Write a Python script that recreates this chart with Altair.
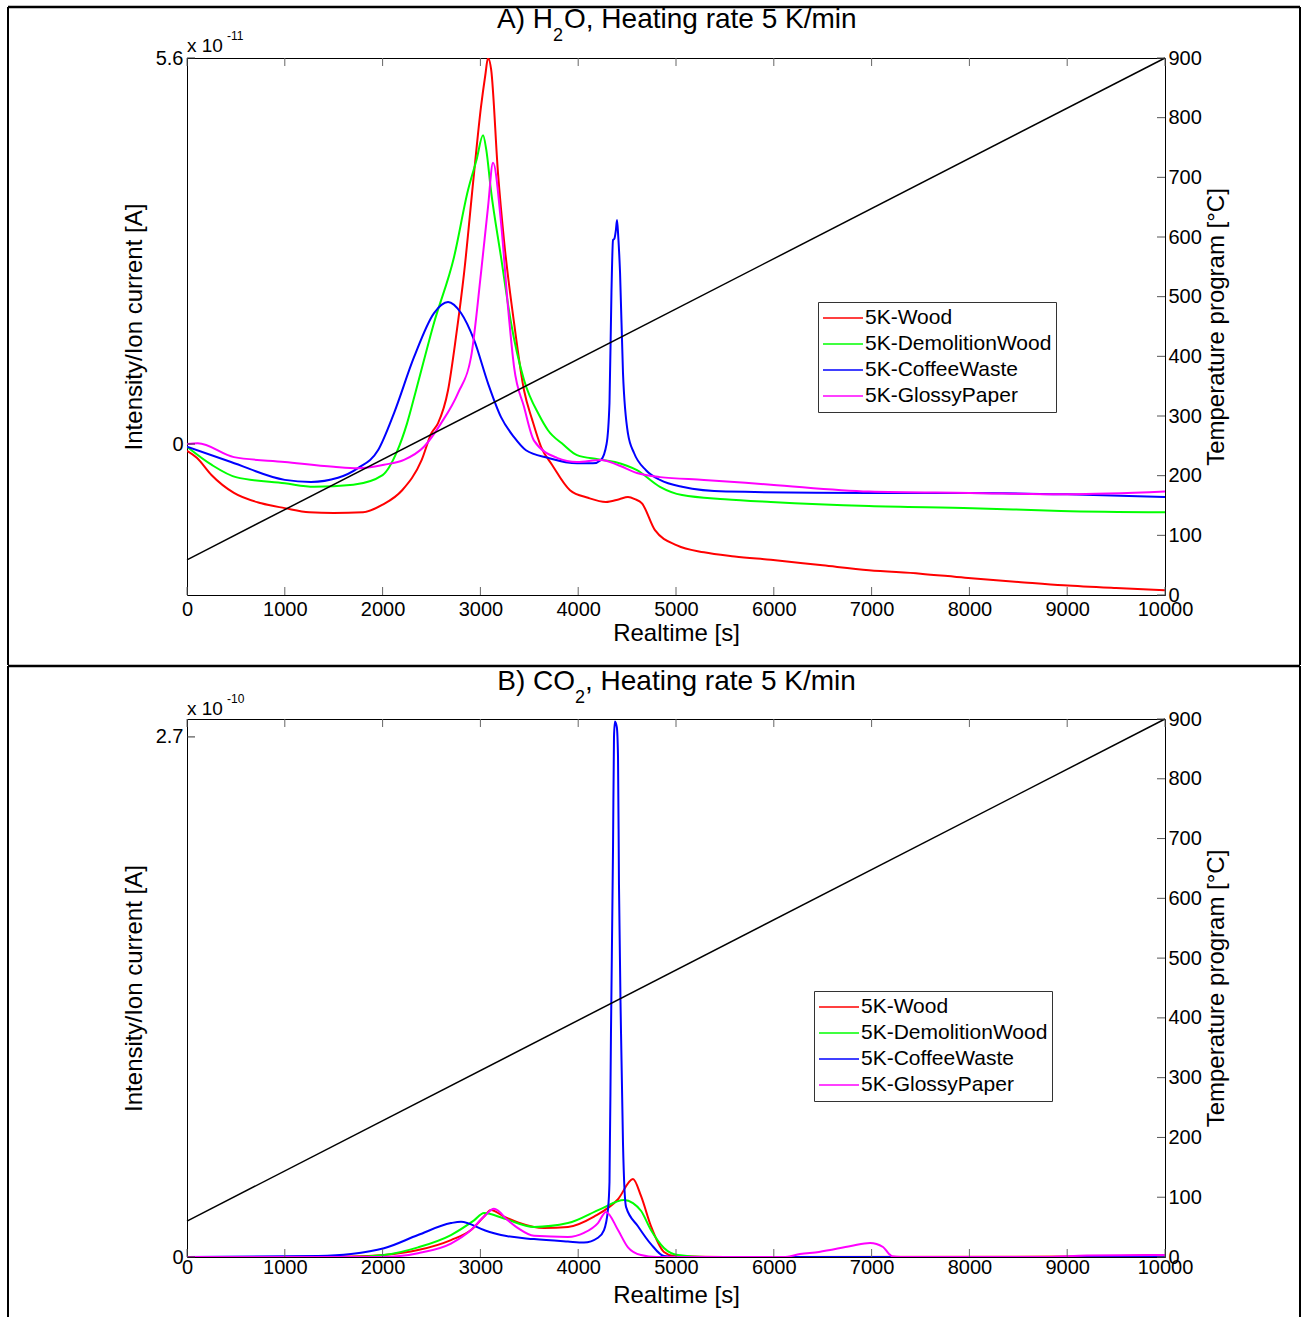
import altair as alt
import pandas as pd

FONT = "Liberation Sans"
W = 978
H_A = 537
H_B = 538
T_MAX = 10000

SERIES = ["5K-Wood", "5K-DemolitionWood", "5K-CoffeeWaste", "5K-GlossyPaper"]
COLORS = ["#ff0000", "#00ff00", "#0000ff", "#ff00ff"]

X_TICKS = [0, 1000, 2000, 3000, 4000, 5000, 6000, 7000, 8000, 9000, 10000]
TEMP_TICKS = [0, 100, 200, 300, 400, 500, 600, 700, 800, 900]

# ---------------- Panel A: H2O (ion current in units of 1e-11 A) ----------------
A_TITLE = ["A) H", "2", "O, Heating rate 5 K/min"]
A_Y_DOMAIN = [-2.19, 5.6]
A_Y_TICKS = [0, 5.6]

A_WOOD_T = [0, 100, 250, 480, 760, 1000, 1250, 1500, 1800, 2000, 2200, 2400, 2500, 2566, 2669, 2750,
            2833, 2935, 3006, 3050, 3078, 3110, 3180, 3241, 3344, 3446, 3530, 3620, 3732, 3916, 4100,
            4284, 4420, 4509, 4580, 4652, 4785, 5010, 5286, 5600, 5970, 6500, 6973, 7500, 7955, 8500,
            8963, 9500, 10000]
A_WOOD_V = [-0.10, -0.20, -0.45, -0.71, -0.86, -0.93, -0.99, -1.00, -0.99, -0.88, -0.67, -0.23, 0.16, 0.30, 0.78, 1.55,
            2.48, 3.93, 4.89, 5.35, 5.60, 5.43, 3.93, 2.96, 1.76, 0.78, 0.35, -0.04, -0.30, -0.67, -0.78,
            -0.84, -0.80, -0.77, -0.80, -0.86, -1.25, -1.47, -1.57, -1.63, -1.68, -1.76, -1.83, -1.88, -1.94, -2.00,
            -2.05, -2.09, -2.12]

A_DEMO_T = [0, 250, 500, 1000, 1300, 1700, 2000, 2150, 2250, 2342, 2526, 2730, 2873, 2960, 3027, 3060,
            3108, 3211, 3313, 3446, 3600, 3691, 3850, 3988, 4200, 4376, 4601, 4836, 5062, 5500, 5970,
            6973, 8027, 8937, 10000]
A_DEMO_V = [-0.04, -0.30, -0.48, -0.57, -0.62, -0.59, -0.45, -0.10, 0.30, 0.78, 1.76, 2.71, 3.68, 4.12, 4.48, 4.27,
            3.68, 2.71, 1.76, 0.93, 0.42, 0.20, -0.01, -0.16, -0.22, -0.26, -0.38, -0.62, -0.74, -0.80, -0.84,
            -0.90, -0.93, -0.97, -0.99]

A_COFFEE_T = [0, 450, 1000, 1268, 1544, 1748, 1953, 2117, 2321, 2526, 2669, 2802, 2935, 3078, 3211, 3344,
              3466, 3691, 3988, 4151, 4233, 4290, 4320, 4340, 4356, 4370, 4385, 4397, 4410, 4428, 4458,
              4509, 4571, 4693, 4836, 5062, 5511, 6973, 8000, 9000, 10000]
A_COFFEE_V = [-0.04, -0.26, -0.52, -0.55, -0.49, -0.35, -0.09, 0.45, 1.26, 1.90, 2.06, 1.90, 1.51, 0.88, 0.39, 0.10,
              -0.09, -0.20, -0.28, -0.28, -0.23, 0.00, 0.60, 2.20, 2.96, 2.98, 3.10, 3.25, 3.00, 2.48, 1.03,
              0.15, -0.13, -0.38, -0.52, -0.62, -0.69, -0.71, -0.71, -0.73, -0.77]

A_GLOSSY_T = [0, 110, 480, 1000, 1500, 1748, 2014, 2219, 2423, 2597, 2771, 2904, 3006, 3078, 3129, 3211,
              3282, 3344, 3446, 3548, 3783, 3988, 4233, 4400, 4601, 4836, 5286, 5970, 6973, 8000, 9000, 10000]
A_GLOSSY_V = [0.00, 0.01, -0.19, -0.26, -0.33, -0.35, -0.30, -0.23, -0.04, 0.30, 0.74, 1.26, 2.48, 3.44, 4.08, 3.21,
              1.99, 1.12, 0.54, 0.05, -0.20, -0.26, -0.23, -0.30, -0.42, -0.48, -0.52, -0.59, -0.69, -0.71, -0.73, -0.69]

A_TEMP_T = [0, 10000]
A_TEMP_C = [59, 900]

# ---------------- Panel B: CO2 (ion current in units of 1e-10 A) ----------------
B_TITLE = ["B) CO", "2", ", Heating rate 5 K/min"]
B_Y_DOMAIN = [0, 2.793]
B_Y_TICKS = [0, 2.7]

B_WOOD_T = [0, 1000, 1677, 2014, 2362, 2699, 2904, 3037, 3108, 3241, 3384, 3650, 3895, 4162, 4407, 4560,
            4642, 4744, 4877, 4980, 5500, 9000, 10000]
B_WOOD_V = [0.0, 0.0, 0.002, 0.01, 0.036, 0.088, 0.14, 0.21, 0.244, 0.21, 0.18, 0.15, 0.156, 0.21, 0.30, 0.405,
            0.317, 0.16, 0.026, 0.005, 0.0, 0.002, 0.01]

B_DEMO_T = [0, 1677, 2014, 2362, 2699, 2935, 3037, 3241, 3548, 3895, 4233, 4468, 4560, 4642, 4744, 4877,
            5020, 5300, 10000]
B_DEMO_V = [0.0, 0.0, 0.01, 0.05, 0.114, 0.19, 0.228, 0.20, 0.156, 0.176, 0.25, 0.296, 0.28, 0.24, 0.14, 0.047,
            0.01, 0.0, 0.0]

B_COFFEE_T = [0, 1340, 1677, 2014, 2362, 2699, 2802, 3037, 3211, 3548, 3895, 4059, 4202, 4264, 4305, 4320,
              4335, 4356, 4366, 4376, 4395, 4407, 4417, 4438, 4458, 4489, 4611, 4744, 4877, 5000, 10000]
B_COFFEE_V = [0.0, 0.005, 0.015, 0.045, 0.114, 0.176, 0.183, 0.14, 0.114, 0.093, 0.08, 0.075, 0.10, 0.14, 0.25, 0.39,
              1.16, 2.12, 2.70, 2.78, 2.75, 2.60, 1.93, 1.16, 0.59, 0.26, 0.16, 0.067, 0.005, 0.0, 0.0]

B_GLOSSY_T = [0, 2000, 2362, 2699, 2904, 3037, 3139, 3282, 3384, 3548, 3895, 4059, 4202, 4284, 4407, 4509,
              4642, 4800, 6100, 6268, 6462, 6789, 6984, 7117, 7178, 7209, 7300, 8800, 9200, 10000]
B_GLOSSY_V = [0.0, 0.0, 0.02, 0.07, 0.14, 0.21, 0.25, 0.19, 0.15, 0.11, 0.104, 0.125, 0.176, 0.234, 0.14, 0.05,
              0.01, 0.0, 0.0, 0.015, 0.026, 0.057, 0.073, 0.052, 0.016, 0.004, 0.0, 0.0, 0.008, 0.01]

B_TEMP_T = [0, 10000]
B_TEMP_C = [60, 900]


def long_frame(pairs):
    rows = []
    for name, (ts, vs) in zip(SERIES, pairs):
        assert len(ts) == len(vs), name
        for t, v in zip(ts, vs):
            rows.append({"series": name, "t": t, "v": v})
    return pd.DataFrame(rows)


def one_row():
    return pd.DataFrame({"k": [0]})


def text_mark(txt, size, align, x, y):
    return alt.Chart(one_row()).mark_text(
        text=txt, font=FONT, fontSize=size, align=align, baseline="alphabetic", color="black"
    ).encode(x=alt.value(x), y=alt.value(y))


def panel(title_parts, title_x, title_y, pairs, y_domain, y_ticks, exp_sup, exp_y, temp_t, temp_c, H,
          legend_x, legend_y, xlabel_pad, frame_top, frame_bottom):
    df = long_frame(pairs)
    xs = alt.Scale(domain=[0, T_MAX], nice=False, zero=False)
    ys = alt.Scale(domain=y_domain, nice=False, zero=False)
    tsc = alt.Scale(domain=[0, 900], nice=False, zero=False)

    lines = alt.Chart(df).mark_line(strokeWidth=2, clip=True, interpolate="monotone").encode(
        x=alt.X("t:Q", scale=xs, axis=alt.Axis(
            values=X_TICKS, format="d", title="Realtime [s]", ticks=False, tickSize=0, domain=False,
            grid=False, labelPadding=xlabel_pad, labelFlush=False, labelOverlap=False,
            labelFontSize=20, titleFontSize=24, titleX=W / 2, titleY=38, titleBaseline="middle")),
        y=alt.Y("v:Q", scale=ys, axis=alt.Axis(
            values=y_ticks, format="~g", title="Intensity/Ion current [A]", ticks=False, tickSize=0,
            domain=False, grid=False, labelPadding=4, labelOverlap=False, labelFontSize=20,
            titleFontSize=24, titleAngle=270, titleX=-53, titleY=H / 2, titleAlign="center",
            titleBaseline="middle")),
        color=alt.Color("series:N", scale=alt.Scale(domain=SERIES, range=COLORS), legend=alt.Legend(
            title=None, orient="none", legendX=legend_x, legendY=legend_y, direction="vertical",
            fillColor="white", strokeColor="#333333", padding=4, symbolType="stroke", symbolSize=1600,
            symbolStrokeWidth=1.5, labelFontSize=21, labelFont=FONT, labelColor="black", labelOffset=1,
            labelLimit=400, clipHeight=24, rowPadding=2)),
    )

    xt = pd.DataFrame({"t": X_TICKS})
    ticks_bottom = alt.Chart(xt).mark_rule(color="#666666", strokeWidth=1).encode(
        x=alt.X("t:Q", scale=xs), y=alt.value(H), y2=alt.value(H - 8))
    ticks_top = alt.Chart(xt).mark_rule(color="#666666", strokeWidth=1).encode(
        x=alt.X("t:Q", scale=xs), y=alt.value(0), y2=alt.value(8))
    ticks_left = alt.Chart(pd.DataFrame({"v": y_ticks})).mark_rule(color="#333333", strokeWidth=1).encode(
        y=alt.Y("v:Q", scale=ys), x=alt.value(0), x2=alt.value(8))

    t1 = text_mark(title_parts[0], 28, "right", title_x[0], title_y)
    t2 = text_mark(title_parts[1], 18, "left", title_x[0], title_y + 13)
    t3 = text_mark(title_parts[2], 28, "left", title_x[1], title_y)
    exp1 = text_mark("x 10", 19, "left", 0, exp_y)
    exp2 = text_mark(exp_sup, 12, "left", 40, exp_y - 12)

    fx0, fx1 = -179, W + 135
    frame_t = alt.Chart(one_row()).mark_rule(color="black", strokeWidth=2.5).encode(
        x=alt.value(fx0), x2=alt.value(fx1), y=alt.value(frame_top))
    frame_l = alt.Chart(one_row()).mark_rule(color="black", strokeWidth=2).encode(
        x=alt.value(fx0), y=alt.value(frame_top), y2=alt.value(frame_bottom))
    frame_r = alt.Chart(one_row()).mark_rule(color="black", strokeWidth=2).encode(
        x=alt.value(fx1), y=alt.value(frame_top), y2=alt.value(frame_bottom))

    left_group = alt.layer(lines, ticks_bottom, ticks_top, ticks_left, t1, t2, t3, exp1, exp2,
                           frame_t, frame_l, frame_r)

    tdf = pd.DataFrame({"t": temp_t, "c": temp_c})
    temp_line = alt.Chart(tdf).mark_line(color="black", strokeWidth=1.5).encode(
        x=alt.X("t:Q", scale=xs),
        y=alt.Y("c:Q", scale=tsc, axis=alt.Axis(
            orient="right", values=TEMP_TICKS, format="d", title="Temperature program [°C]",
            ticks=False, tickSize=0, domain=False, grid=False, labelPadding=3, labelOverlap=False,
            labelFontSize=20, titleFontSize=24, titleAngle=270, titleX=51, titleY=H / 2,
            titleAlign="center", titleBaseline="middle")),
    )
    ticks_right = alt.Chart(pd.DataFrame({"c": TEMP_TICKS})).mark_rule(color="#555555", strokeWidth=1).encode(
        y=alt.Y("c:Q", scale=tsc), x=alt.value(W - 8), x2=alt.value(W))
    right_group = alt.layer(temp_line, ticks_right)

    return alt.layer(left_group, right_group).resolve_scale(y="independent").properties(width=W, height=H)


panel_a = panel(
    A_TITLE, [366, 377], -30,
    [(A_WOOD_T, A_WOOD_V), (A_DEMO_T, A_DEMO_V), (A_COFFEE_T, A_COFFEE_V), (A_GLOSSY_T, A_GLOSSY_V)],
    A_Y_DOMAIN, A_Y_TICKS, "-11", -6, A_TEMP_T, A_TEMP_C, H_A,
    631, 244, 4, -51, 607,
)
panel_b = panel(
    B_TITLE, [388, 398], -29,
    [(B_WOOD_T, B_WOOD_V), (B_DEMO_T, B_DEMO_V), (B_COFFEE_T, B_COFFEE_V), (B_GLOSSY_T, B_GLOSSY_V)],
    B_Y_DOMAIN, B_Y_TICKS, "-10", -4, B_TEMP_T, B_TEMP_C, H_B,
    627, 272, 0, -53, 598,
)

chart = alt.vconcat(panel_a, panel_b, spacing=-3).resolve_scale(color="independent").properties(
    padding={"left": 6, "top": 5, "right": 0, "bottom": 0}
).configure_view(stroke="black", strokeWidth=1).configure_axis(
    labelFont=FONT, titleFont=FONT, labelColor="black", titleColor="black", titleFontWeight="normal"
)

chart.save("out.html", embed_options={"renderer": "svg", "actions": False})
